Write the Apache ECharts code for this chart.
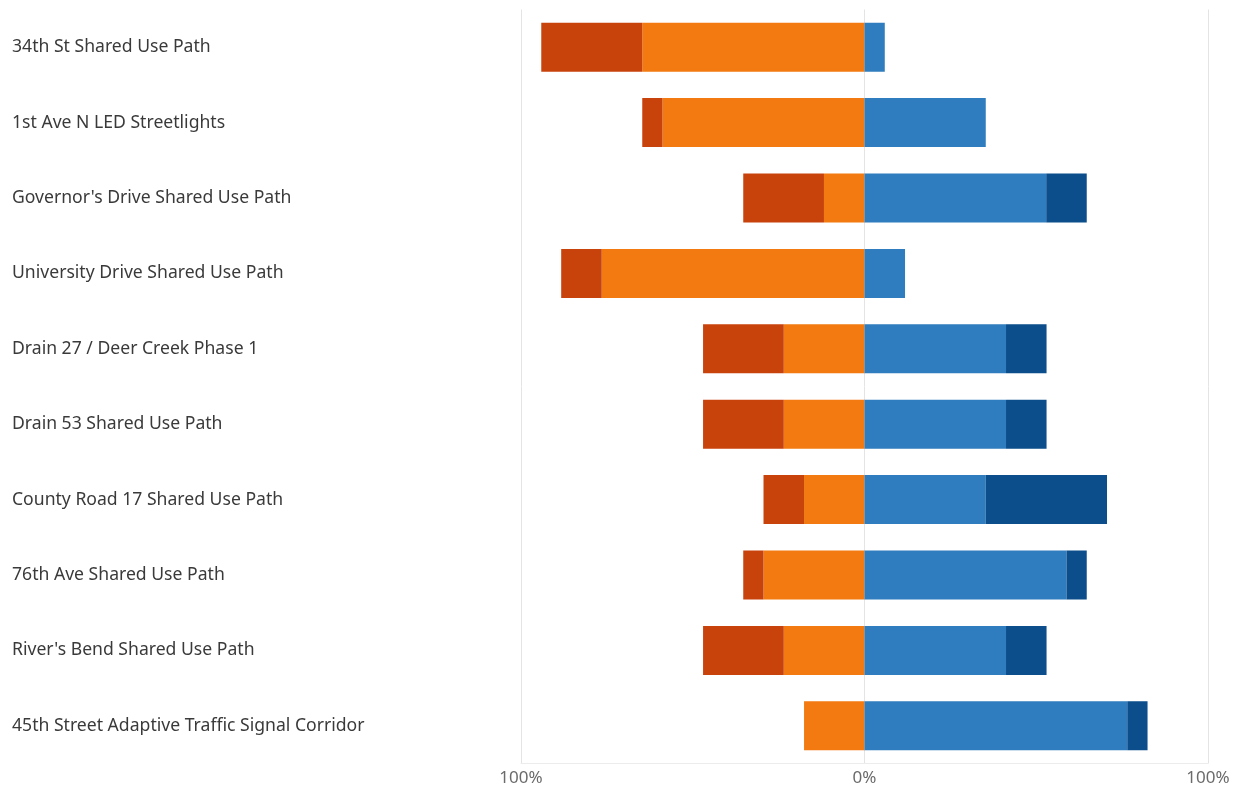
<!DOCTYPE html>
<html>
<head>
<meta charset="utf-8">
<script src="https://cdn.jsdelivr.net/npm/echarts@6/dist/echarts.min.js"></script>
<style>
  html, body { margin: 0; padding: 0; background: #ffffff; }
  #chart { width: 1244px; height: 790px; }
</style>
</head>
<body>
<div id="chart"></div>
<script>
// Categories (top to bottom)
const categories = [
  "34th St Shared Use Path",
  "1st Ave N LED Streetlights",
  "Governor's Drive Shared Use Path",
  "University Drive Shared Use Path",
  "Drain 27 / Deer Creek Phase 1",
  "Drain 53 Shared Use Path",
  "County Road 17 Shared Use Path",
  "76th Ave Shared Use Path",
  "River's Bend Shared Use Path",
  "45th Street Adaptive Traffic Signal Corridor"
];

// Percent shares (magnitudes); left side drawn to the negative direction
const stronglyNegative = [29.4, 5.9, 23.5, 11.8, 23.5, 23.5, 11.8, 5.9, 23.5, 0];
const negative         = [64.7, 58.8, 11.8, 76.5, 23.5, 23.5, 17.6, 29.4, 23.5, 17.6];
const positive         = [5.9, 35.3, 52.9, 11.8, 41.2, 41.2, 35.3, 58.8, 41.2, 76.5];
const stronglyPositive = [0, 0, 11.8, 0, 11.8, 11.8, 35.3, 5.9, 11.8, 5.9];

const axisMin = -100;
const axisMax = 100;
const axisStep = 100;

const chart = echarts.init(document.getElementById('chart'), null, { renderer: 'canvas' });

function barSeries(name, values, sign, color) {
  return {
    name: name,
    type: 'bar',
    stack: 'total',
    barWidth: 49,
    data: values.map(v => sign * v),
    itemStyle: { color: color },
    emphasis: { disabled: true },
    silent: true
  };
}

chart.setOption({
  animation: false,
  backgroundColor: '#ffffff',
  grid: { left: 521, right: 36, top: 9.5, height: 754, containLabel: false },
  xAxis: {
    type: 'value',
    min: axisMin,
    max: axisMax,
    interval: axisStep,
    axisLine: { show: true, lineStyle: { color: '#ececec', width: 1 } },
    axisTick: { show: false },
    splitLine: { show: true, lineStyle: { color: '#e4e4e4', width: 1 } },
    axisLabel: {
      margin: 6,
      color: '#6b6b6b',
      fontFamily: 'Noto Sans',
      fontSize: 17,
      formatter: v => Math.abs(v) + '%'
    }
  },
  yAxis: {
    type: 'category',
    data: categories,
    inverse: true,
    axisLine: { show: false },
    axisTick: { show: false },
    splitLine: { show: false },
    axisLabel: {
      align: 'left',
      margin: 509,
      color: '#3a3a3a',
      fontFamily: 'Noto Sans',
      fontSize: 17.6
    }
  },
  series: [
    barSeries('Disagree', negative, -1, '#f27a10'),
    barSeries('Strongly disagree', stronglyNegative, -1, '#c8420c'),
    barSeries('Agree', positive, 1, '#2f7cbe'),
    barSeries('Strongly agree', stronglyPositive, 1, '#0b4e8b')
  ]
});
</script>
</body>
</html>
